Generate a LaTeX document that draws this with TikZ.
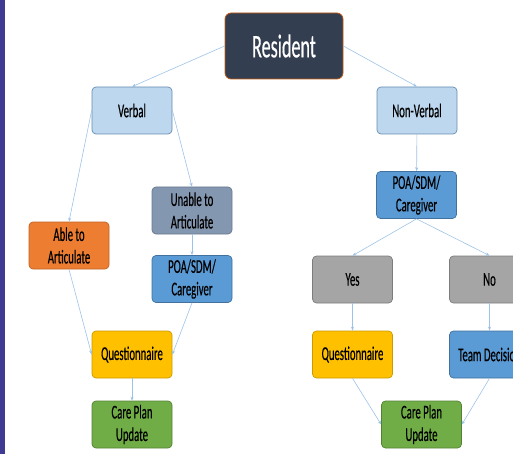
\documentclass[tikz,border=0pt]{standalone}
\usepackage{fontspec}
\setmainfont{Carlito}[FakeStretch=0.55,FakeBold=0.4]
\usetikzlibrary{arrows.meta}
\definecolor{navy}{HTML}{333F50}
\definecolor{rust}{HTML}{C55A11}
\definecolor{paleblue}{HTML}{BDD7EE}
\definecolor{midblue}{HTML}{5B9BD5}
\definecolor{edgeblue}{HTML}{41719C}
\definecolor{slate}{HTML}{8497B0}
\definecolor{orng}{HTML}{ED7D31}
\definecolor{gold}{HTML}{FFC000}
\definecolor{leaf}{HTML}{70AD47}
\definecolor{grey}{HTML}{A5A5A5}
\definecolor{linkblue}{HTML}{9DC3E6}
\definecolor{barpurple}{HTML}{403A93}
\tikzset{
  box/.style={rounded corners=4pt, minimum width=80pt, minimum height=47pt,
    align=center, font=\fontsize{19.5}{22.5}\selectfont, text=black, line width=0.7pt},
  link/.style={draw=linkblue, line width=0.6pt, -{Stealth[length=4pt,width=3pt,fill=midblue]}}
}
\begin{document}
\begin{tikzpicture}[x=1pt,y=-1pt]
\useasboundingbox (0,0) rectangle (513,454);
\clip (0,0) rectangle (513,454);
%side bar
\fill[barpurple] (0,0) rectangle (5,454);
%top
\node[box, fill=navy, draw=rust, text=white, minimum width=118pt, minimum height=66pt,
  rounded corners=6pt, font=\fontsize{33}{38}\selectfont] (res) at (284,46) {Resident};
\node[box, fill=paleblue, draw=edgeblue!80] (verb) at (132,110.5) {Verbal};
\node[box, fill=paleblue, draw=edgeblue!80] (nonverb) at (417,110.5) {Non-Verbal};
%verbal side
\node[box, fill=orng, draw=orng!80!black] (able) at (69,245.5) {Able to\\Articulate};
\node[box, fill=slate, draw=slate!80!black] (unable) at (192,210.5) {Unable to\\Articulate};
\node[box, fill=midblue, draw=edgeblue] (poaL) at (192,279) {POA/SDM/\\Caregiver};
\node[box, fill=gold, draw=gold!80!black] (quesL) at (132,354.5) {Questionnaire};
\node[box, fill=leaf, draw=leaf!75!black] (careL) at (132,424.5) {Care Plan\\Update};
%non-verbal side
\node[box, fill=midblue, draw=edgeblue] (poaR) at (416.5,195) {POA/SDM/\\Caregiver};
\node[box, fill=grey, draw=grey!75!black] (yes) at (352.5,279.5) {Yes};
\node[box, fill=grey, draw=grey!75!black] (no) at (489.5,279.5) {No};
\node[box, fill=gold, draw=gold!80!black] (quesR) at (352.5,354.5) {Questionnaire};
\node[box, fill=midblue, draw=edgeblue] (team) at (489.5,354.5) {Team Decision};
\node[box, fill=leaf, draw=leaf!75!black] (careR) at (421.5,424.5) {Care Plan\\Update};
%arrows
\draw[link] (res.west) -- (verb.north);
\draw[link] (res.east) -- (nonverb.north);
\draw[link] (verb.west) -- (able.north);
\draw[link] (verb.east) -- (unable.north);
\draw[link] (unable) -- (poaL);
\draw[link] (able.south) -- (quesL.west);
\draw[link] (poaL.south) -- (quesL.east);
\draw[link] (quesL) -- (careL);
\draw[link] (nonverb) -- (poaR);
\draw[link] (poaR.south) -- (yes.north);
\draw[link] (poaR.south) -- (no.north);
\draw[link] (yes) -- (quesR);
\draw[link] (no) -- (team);
\draw[link] (quesR.south) -- (careR.west);
\draw[link] (team.south) -- (careR.east);
\end{tikzpicture}
\end{document}
